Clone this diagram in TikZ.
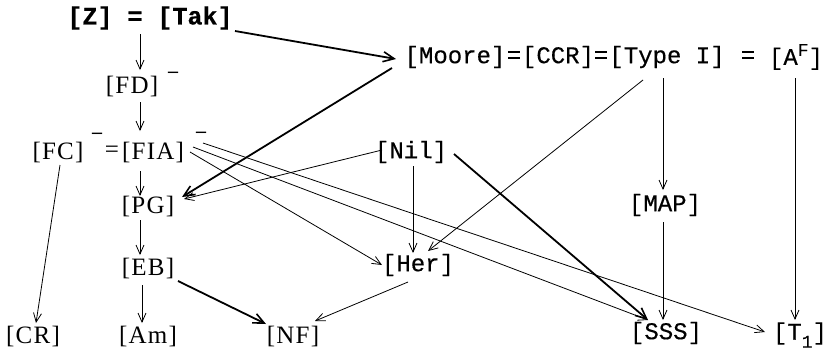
\documentclass[tikz,border=0pt]{standalone}
\usepackage{fontspec}
\setmainfont{Liberation Serif}
\newfontfamily\tw{Liberation Mono}[FakeBold=0.4]
\newfontfamily\tsr{Liberation Serif}[LetterSpace=5]
\usetikzlibrary{arrows.meta}
\newcommand{\supF}{\raisebox{9pt}{\fontsize{18}{18}\selectfont F}}
\newcommand{\subone}{\raisebox{-8pt}{\fontsize{18}{18}\selectfont 1}}
\begin{document}
\begin{tikzpicture}[x=1pt,y=-1pt,
  lab/.style={inner sep=0pt,font=\tsr\fontsize{25}{28}\selectfont},
  tlab/.style={inner sep=0pt,font=\tw\fontsize{24}{27}\selectfont},
  blab/.style={inner sep=0pt,font=\tw\bfseries\fontsize{25}{28}\selectfont},
  mlab/.style={inner sep=0pt,font=\tsr\bfseries\fontsize{20}{22}\selectfont},
  arr/.style={line width=0.8pt,-{Straight Barb[length=9pt,width=8pt,line width=0.8pt]}},
  tarr/.style={line width=1.8pt,-{Straight Barb[length=11pt,width=10pt,line width=1.6pt]}}]
\useasboundingbox (0,0) rectangle (833,357);
% nodes
\node[blab] (ztak) at (150,18) {[Z] = [Tak]};
\node[lab] (fd) at (132,86) {[FD]};
\node[mlab] (fdm) at (173,75) {–};
\node[lab] (fc) at (58,152) {[FC]};
\node[mlab] (fcm) at (97,136) {–};
\node[lab] (eqa) at (112,152) {=};
\node[lab] (fia) at (153,152) {[FIA]};
\node[mlab] (fiam) at (201,135) {–};
\node[lab] (pg) at (148,206) {[PG]};
\node[lab] (eb) at (148,268) {[EB]};
\node[lab] (am) at (148,336) {[Am]};
\node[lab] (cr) at (33,336) {[CR]};
\node[lab] (nf) at (293,336) {[NF]};
\node[tlab] (nil) at (411,152) {[Nil]};
\node[tlab] (her) at (418,265) {[Her]};
\node[tlab] (moore) at (455,57) {[Moore]};
\node[tlab] (eqb) at (514,57) {=};
\node[tlab] (ccr) at (558,57) {[CCR]};
\node[tlab] (eqc) at (601,57) {=};
\node[tlab] (typei) at (667,57) {[Type I]};
\node[tlab] (eqd) at (748,57) {=};
\node[tlab] (af) at (796,57) {[A\supF]};
\node[tlab] (map) at (665,205) {[MAP]};
\node[tlab] (sss) at (666,333) {[SSS]};
\node[tlab] (t1) at (800,335) {[T\subone]};
% edges
\draw[tarr] ([shift={(85,13)}]ztak.center) -- ([shift={(-59,2)}]moore.center);
\draw[arr] ([shift={(-10,16)}]ztak.center) -- ([shift={(8,-16)}]fd.center);
\draw[arr] ([shift={(8,16)}]fd.center) -- ([shift={(-13,-21)}]fia.center);
\draw[arr] ([shift={(2,13)}]fc.center) -- ([shift={(3,-13)}]cr.center);
\draw[arr] ([shift={(-13,19)}]fia.center) -- ([shift={(-8,-10)}]pg.center);
\draw[tarr] ([shift={(-63,11)}]moore.center) -- ([shift={(34,-9)}]pg.center);
\draw[arr] ([shift={(-29,-2)}]nil.center) -- ([shift={(36,-7)}]pg.center);
\draw[arr] ([shift={(37,0)}]fia.center) -- ([shift={(-36,0)}]her.center);
\draw[arr] ([shift={(40,-5)}]fia.center) -- ([shift={(-18,-13)}]sss.center);
\draw[arr] ([shift={(50,-9)}]fia.center) -- ([shift={(-35,-3)}]t1.center);
\draw[arr] ([shift={(2,14)}]nil.center) -- ([shift={(-5,-12)}]her.center);
\draw[tarr] ([shift={(43,2)}]nil.center) -- ([shift={(-18,-13)}]sss.center);
\draw[arr] ([shift={(-24,23)}]typei.center) -- ([shift={(10,-14)}]her.center);
\draw[arr] ([shift={(-4,21)}]typei.center) -- ([shift={(-2,-15)}]map.center);
\draw[arr] ([shift={(-1,21)}]af.center) -- ([shift={(-5,-15)}]t1.center);
\draw[arr] ([shift={(-2,17)}]map.center) -- ([shift={(-3,-13)}]sss.center);
\draw[arr] ([shift={(-8,14)}]pg.center) -- ([shift={(-8,-13)}]eb.center);
\draw[arr] ([shift={(-6,17)}]eb.center) -- ([shift={(-6,-13)}]am.center);
\draw[tarr] ([shift={(30,13)}]eb.center) -- ([shift={(-27,-12)}]nf.center);
\draw[arr] ([shift={(-10,17)}]her.center) -- ([shift={(22,-15)}]nf.center);
\end{tikzpicture}
\end{document}
